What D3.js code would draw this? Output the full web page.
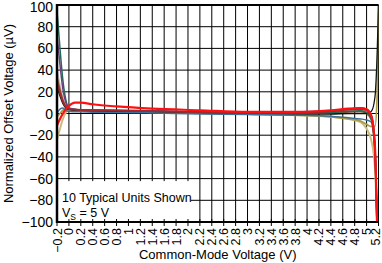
<!DOCTYPE html>
<html>
<head>
<meta charset="utf-8">
<script src="https://cdn.jsdelivr.net/npm/d3@7"></script>
<style>
   body { margin: 0; background: #fff; }
   svg { font-family: "Liberation Sans", Arial, sans-serif; }
</style>
</head>
<body>
<figure style="margin:0"></figure>
<script>

// Common-mode voltage sample points (V), shared by all units.
let xValues = [-0.2, -0.15, -0.1, -0.05, 0, 0.1, 0.2, 0.4, 0.8, 1.4, 2.2, 3.0, 3.8, 4.4, 4.7, 4.9, 5.0, 5.08, 5.14, 5.18, 5.2];

// Normalized offset voltage (uV) for the 10 units.
let unitRed     = [-11, -5, 0, 4, 7, 10, 10, 8.5, 6.5, 4.5, 3, 1.5, 1.5, 3, 4.5, 5, 4, -2, -30, -110, -150];
let unitGreen   = [95, 60, 30, 12, 5, 3.5, 3, 2.8, 2.5, 2, 1, 0.5, 0.5, 1, 2, 2.5, 1, -5, -35, -110, -150];
let unitPurple  = [72, 45, 22, 10, 5, 4, 3.5, 3.2, 3, 2.5, 1.5, 1, 1.5, 2.5, 4, 5, 4, -2, -30, -110, -150];
let unitGray    = [40, 26, 14, 7, 4.5, 3.5, 3, 2.8, 2.5, 2, 1, 0.5, 0.5, 1.5, 3, 3.5, 2.5, -3, -35, -110, -150];
let unitBrown   = [33, 22, 12, 6, 4, 3.5, 3, 2.8, 2.5, 2, 1, 0.3, 0, 0.5, 1.5, 2, 0, -6, -35, -110, -150];
let unitDarkRed = [28, 19, 11, 6, 4, 3.5, 3.2, 3, 2.8, 2.2, 1.2, 0.8, 1, 2, 3.5, 4, 3, -3, -32, -110, -150];
let unitBlack   = [25, 16, 9, 5, 3.5, 3, 2.5, 2.2, 2, 1.5, 0.5, 0, -0.5, -0.5, 0, 0, 0, 2, 15, 60, 100];
let unitKhaki   = [-24, -14, -5, 1, 3.5, 3.5, 3, 2.5, 2, 1.5, 0.5, -0.5, -1.5, -3, -5, -8, -14, -25, -50, -110, -150];
let unitOlive   = [-3, 0, 3, 4.5, 4, 3.5, 3, 2.5, 2, 1.5, 0.5, -0.5, -1.5, -3, -5, -7, -10, -12, -12, 20, 100];
let unitBlue    = [0, 4, 5, 2.5, 2, 1.5, 1.5, 1.2, 1, 0.5, -0.5, -1, -1.5, -2.5, -4, -5, -6, -8, -30, -110, -150];

let units = [unitGray, unitKhaki, unitOlive, unitBrown, unitBlack, unitBlue, unitGreen, unitPurple, unitDarkRed, unitRed];
let unitColors = ["#c4c4c4", "#cbbd80", "#a89c48", "#8a5a35", "#111111", "#3d7099", "#1f6b55", "#6e3f7e", "#a3282c", "#ff1010"];
let unitWidths = [1.8, 2, 1.8, 1.8, 1.3, 1.5, 1.5, 1.5, 1.8, 2.2];

// Axis ticks
let xTicks = d3.range(-0.2, 5.21, 0.2);
let yTicks = d3.range(-100, 101, 20);

let legendLines = ["10 Typical Units Shown", "V", "S", " = 5 V"];

function drawChart() {
   let width = 382, height = 263;
   let margin = {top: 5, right: 3.5, bottom: 41, left: 57};
   let plotW = width - margin.left - margin.right;
   let plotH = height - margin.top - margin.bottom;

   let svg = d3.select("figure")
      .append("svg")
      .attr("width", width)
      .attr("height", height);

   let g = svg.append("g")
      .attr("transform", "translate(" + margin.left + "," + margin.top + ")");

   let x = d3.scaleLinear().domain([-0.2, 5.2]).range([0, plotW]);
   let y = d3.scaleLinear().domain([-100, 100]).range([plotH, 0]);

   // Grid lines
   g.selectAll(".vgrid")
      .data(xTicks)
      .enter()
      .append("line")
      .attr("x1", d => x(d)).attr("x2", d => x(d))
      .attr("y1", 0).attr("y2", plotH)
      .attr("stroke", "#000")
      .attr("stroke-width", 1);
   g.selectAll(".hgrid")
      .data(yTicks)
      .enter()
      .append("line")
      .attr("x1", 0).attr("x2", plotW)
      .attr("y1", d => y(d)).attr("y2", d => y(d))
      .attr("stroke", "#000")
      .attr("stroke-width", 1);

   // Clip the curves to the plot area
   svg.append("clipPath").attr("id", "plotclip")
      .append("rect").attr("width", plotW).attr("height", plotH);

   let line = d3.line()
      .x((d, i) => x(xValues[i]))
      .y(d => y(d))
      .curve(d3.curveMonotoneX);

   g.append("g")
      .attr("clip-path", "url(#plotclip)")
      .selectAll("path")
      .data(units)
      .enter()
      .append("path")
      .attr("d", line)
      .attr("fill", "none")
      .attr("stroke", (d, i) => unitColors[i])
      .attr("stroke-width", (d, i) => unitWidths[i])
      .attr("stroke-linejoin", "round");

   // Legend box hides the grid behind the note
   let legend = g.append("g");
   legend.append("rect")
      .attr("x", 0).attr("y", y(-60) + 2.5)
      .attr("width", x(2.05)).attr("height", plotH - y(-60) - 2.5)
      .attr("fill", "#fff");
   legend.append("text")
      .attr("x", 5).attr("y", y(-82))
      .attr("font-size", 12.5)
      .text(legendLines[0]);
   let vs = legend.append("text")
      .attr("x", 5).attr("y", y(-95.5))
      .attr("font-size", 12.5);
   vs.append("tspan").text(legendLines[1]);
   vs.append("tspan").attr("font-size", 8.5).attr("dy", 3).text(legendLines[2]);
   vs.append("tspan").attr("dy", -3).text(legendLines[3]);

   // Plot frame: heavy left, top and bottom edges
   g.append("line").attr("x1", 0).attr("x2", plotW).attr("y1", 0).attr("y2", 0)
      .attr("stroke", "#000").attr("stroke-width", 2);
   g.append("line").attr("x1", 0).attr("x2", plotW).attr("y1", plotH).attr("y2", plotH)
      .attr("stroke", "#000").attr("stroke-width", 2);
   g.append("line").attr("x1", 0).attr("x2", 0).attr("y1", -1).attr("y2", plotH + 1)
      .attr("stroke", "#000").attr("stroke-width", 2.5);

   // X axis ticks and rotated labels
   g.selectAll(".xtick")
      .data(xTicks)
      .enter()
      .append("line")
      .attr("x1", d => x(d)).attr("x2", d => x(d))
      .attr("y1", plotH - 3).attr("y2", plotH + 4)
      .attr("stroke", "#000");
   g.selectAll(".xlabel")
      .data(xTicks)
      .enter()
      .append("text")
      .attr("transform", d => "translate(" + Math.min(x(d) + 4.5, plotW + 1) + "," + (plotH + 6) + ") rotate(-90)")
      .attr("text-anchor", "end")
      .attr("font-size", 12.5)
      .text(d => d3.format(".1~f")(d).replace("-", "\u2212"));

   // Y axis labels
   g.selectAll(".ylabel")
      .data(yTicks)
      .enter()
      .append("text")
      .attr("x", -4)
      .attr("y", d => Math.max(y(d) + 5, 6.5))
      .attr("text-anchor", "end")
      .attr("font-size", 14)
      .text(d => String(d).replace("-", "\u2212"));

   // Axis titles
   svg.append("text")
      .attr("x", margin.left + plotW / 2)
      .attr("y", 259)
      .attr("text-anchor", "middle")
      .attr("font-size", 13)
      .text("Common-Mode Voltage (V)");
   svg.append("text")
      .attr("transform", "translate(13," + (margin.top + plotH / 2) + ") rotate(-90)")
      .attr("text-anchor", "middle")
      .attr("font-size", 13)
      .text("Normalized Offset Voltage (\u00b5V)");
}

drawChart();
</script>
</body>
</html>
